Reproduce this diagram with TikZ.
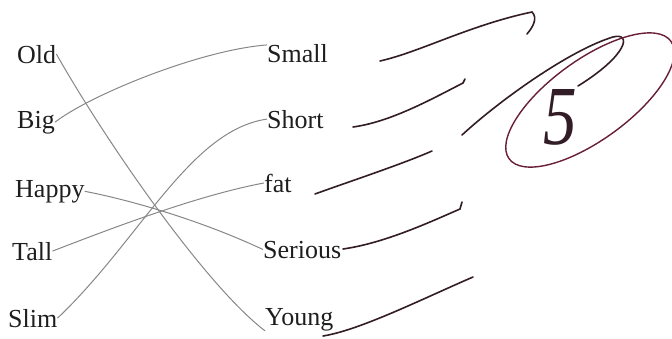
\documentclass[tikz,border=0pt]{standalone}
\usepackage{fontspec}
\setmainfont{Liberation Serif}
\usepackage{xcolor}
\usepackage{tikz}
\usetikzlibrary{positioning}

\definecolor{pencil}{RGB}{135,135,135}
\definecolor{ink}{RGB}{50,28,38}
\definecolor{redink}{RGB}{105,30,55}
\definecolor{print}{RGB}{30,30,30}

\begin{document}
\begin{tikzpicture}[
  x=1pt, y=-1pt,
  word/.style={inner sep=0pt, anchor=base west, text=print, font=\fontsize{26}{28}\selectfont},
  pair/.style={pencil, line width=1pt},
  penline/.style={ink, line width=1.6pt, line cap=round}
]
  \useasboundingbox (0,0) rectangle (672,338);

  % left column
  \node[word] (old) at (17,63) {Old};
  \node[word] (big) at (17,128) {Big};
  \node[word] (happy) at (15,197) {Happy};
  \node[word] (tall) at (12,260) {Tall};
  \node[word] (slim) at (8,327) {Slim};

  % right column
  \node[word] (small) at (267,62) {Small};
  \node[word] (short) at (267,128) {Short};
  \node[word] (fat) at (264,192) {fat};
  \node[word] (serious) at (263,258) {Serious};
  \node[word] (young) at (265,325) {Young};

  % matching lines
  \draw[pair] (old.east) .. controls (105,140) and (205,285) .. (young.south west);
  \draw[pair] (big.east) .. controls (90,95) and (200,50) .. (small.165);
  \draw[pair] (happy.east) .. controls (130,200) and (200,220) .. (serious.west);
  \draw[pair] (tall.east) .. controls (120,225) and (200,195) .. (fat.west);
  \draw[pair] (slim.east) .. controls (140,240) and (190,130) .. (short.west);

  % pen marks
  \draw[penline] (380,61) .. controls (420,52) and (470,25) .. (532,12) .. controls (538,18) and (533,27) .. (527,34);
  \draw[penline] (353,127) .. controls (390,122) and (430,100) .. (463,83) -- (465,79);
  \draw[penline] (315,194) .. controls (345,183) and (400,165) .. (432,151);
  \draw[penline] (343,249) .. controls (385,243) and (430,222) .. (460,209) -- (462,202);
  \draw[penline] (323,336) .. controls (360,330) and (420,300) .. (473,277);
  \draw[penline] (462,135) .. controls (500,100) and (570,50) .. (613,37) .. controls (632,32) and (628,55) .. (578,86);

  % grade
  \node[inner sep=0pt, text=ink, xscale=0.8, font=\fontsize{84}{84}\selectfont\itshape] (grade) at (560,117) {5};
  \draw[redink, line width=1.4pt, rotate around={36:(590,100)}] (590,100) ellipse [x radius=100, y radius=40];
\end{tikzpicture}
\end{document}
